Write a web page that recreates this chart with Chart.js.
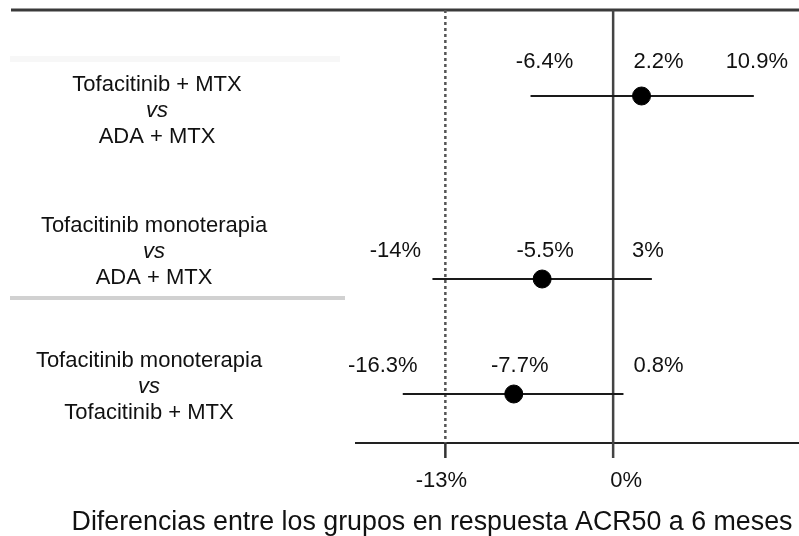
<!DOCTYPE html>
<html>
<head>
<meta charset="utf-8">
<script src="https://cdn.jsdelivr.net/npm/chart.js@4/dist/chart.umd.min.js"></script>
<style>
  html, body { margin: 0; padding: 0; background: #fff; }
  canvas { display: block; }
</style>
</head>
<body>
<canvas id="forest" width="799" height="536"></canvas>
<script>
// comparisons (three lines each)
const comparisons = [
    ["Tofacitinib + MTX", "vs", "ADA + MTX"],
    ["Tofacitinib monoterapia", "vs", "ADA + MTX"],
    ["Tofacitinib monoterapia", "vs", "Tofacitinib + MTX"]
];

// difference in ACR50 response (%), with 95% CI
const estimates = [2.2, -5.5, -7.7];
const lowerCI = [-6.4, -14, -16.3];
const upperCI = [10.9, 3, 0.8];

// reference lines / axis ticks
const tickValues = [-13, 0];
const tickLabels = ["-13%", "0%"];
const axisTitle = "Diferencias entre los grupos en respuesta ACR50 a 6 meses";

// layout only (vertical position of each row, value-label nudges in px)
const rowPos = [86, 269, 384];
const labelNudge = [[14, 17, 3], [-37, 3, -4], [-20, 6, 35]];
const valueBaseline = [68, 257, 372];
const compBaseline = [91, 232, 367];
const compCenter = [157, 154, 149];
const tickNudge = [-4, 13];

const FONT = '"Liberation Sans", Arial, sans-serif';
const fmt = v => `${v}%`;

// CI whiskers, one line dataset per row
const ciSets = comparisons.map((c, i) => ({
    type: "line",
    data: [{ x: lowerCI[i], y: rowPos[i] }, { x: upperCI[i], y: rowPos[i] }],
    borderColor: "#1a1a1a",
    borderWidth: 2,
    pointRadius: 0,
    fill: false
}));

const decor = {
    id: "decor",
    beforeDatasetsDraw(chart) {
        const { ctx, scales: { x, y } } = chart;
        const top = y.getPixelForValue(0);
        const bottom = y.getPixelForValue(433);
        ctx.save();

        // faint scan remnants
        ctx.fillStyle = "rgba(0,0,0,0.03)";
        ctx.fillRect(10, 56, 330, 6);
        ctx.fillStyle = "rgba(0,0,0,0.18)";
        ctx.fillRect(10, 296, 335, 4);

        // top rule
        ctx.strokeStyle = "#3a3a3a";
        ctx.lineWidth = 3;
        ctx.beginPath();
        ctx.moveTo(11, top);
        ctx.lineTo(799, top);
        ctx.stroke();

        // bottom axis line
        ctx.strokeStyle = "#222";
        ctx.lineWidth = 2;
        ctx.beginPath();
        ctx.moveTo(x.left, bottom);
        ctx.lineTo(x.right, bottom);
        ctx.stroke();

        // -13% dotted reference
        const xm = x.getPixelForValue(tickValues[0]);
        ctx.strokeStyle = "#555";
        ctx.lineWidth = 2.5;
        ctx.setLineDash([3, 3]);
        ctx.beginPath();
        ctx.moveTo(xm, top);
        ctx.lineTo(xm, bottom);
        ctx.stroke();
        ctx.setLineDash([]);
        ctx.strokeStyle = "#333";
        ctx.beginPath();
        ctx.moveTo(xm, bottom);
        ctx.lineTo(xm, bottom + 15);
        ctx.stroke();

        // 0% line
        const x0 = x.getPixelForValue(tickValues[1]);
        ctx.strokeStyle = "#444";
        ctx.lineWidth = 2.5;
        ctx.beginPath();
        ctx.moveTo(x0, top);
        ctx.lineTo(x0, bottom + 15);
        ctx.stroke();

        ctx.restore();
    },
    afterDraw(chart) {
        const { ctx, scales: { x } } = chart;
        ctx.save();
        ctx.fillStyle = "#111";
        ctx.textAlign = "center";
        ctx.textBaseline = "alphabetic";

        // comparison labels on the left
        comparisons.forEach((lines, i) => {
            lines.forEach((t, k) => {
                ctx.font = (t === "vs" ? "italic " : "") + "22px " + FONT;
                ctx.fillText(t, compCenter[i], compBaseline[i] + k * 26);
            });
        });

        // CI / estimate values above each whisker
        ctx.font = "22px " + FONT;
        estimates.forEach((e, i) => {
            const vals = [lowerCI[i], e, upperCI[i]];
            vals.forEach((v, k) => {
                ctx.fillText(fmt(v), x.getPixelForValue(v) + labelNudge[i][k], valueBaseline[i]);
            });
        });

        // tick labels
        tickValues.forEach((v, k) => {
            ctx.fillText(tickLabels[k], x.getPixelForValue(v) + tickNudge[k], 487);
        });

        // axis title
        ctx.font = "26.8px " + FONT;
        ctx.fillText(axisTitle, 432, 530);
        ctx.restore();
    }
};

new Chart(document.getElementById("forest"), {
    type: "scatter",
    data: {
        datasets: [
            {
                data: estimates.map((v, i) => ({ x: v, y: rowPos[i] })),
                backgroundColor: "#000",
                borderColor: "#000",
                pointRadius: 9,
                pointHoverRadius: 9
            },
            ...ciSets
        ]
    },
    options: {
        responsive: false,
        animation: false,
        events: [],
        layout: { autoPadding: false, padding: { left: 355, top: 10, right: 0, bottom: 93 } },
        scales: {
            x: { type: "linear", min: -20, max: 14.4, display: false },
            y: { type: "linear", min: 0, max: 433, reverse: true, display: false }
        },
        plugins: {
            legend: { display: false },
            tooltip: { enabled: false }
        }
    },
    plugins: [decor]
});
</script>
</body>
</html>
